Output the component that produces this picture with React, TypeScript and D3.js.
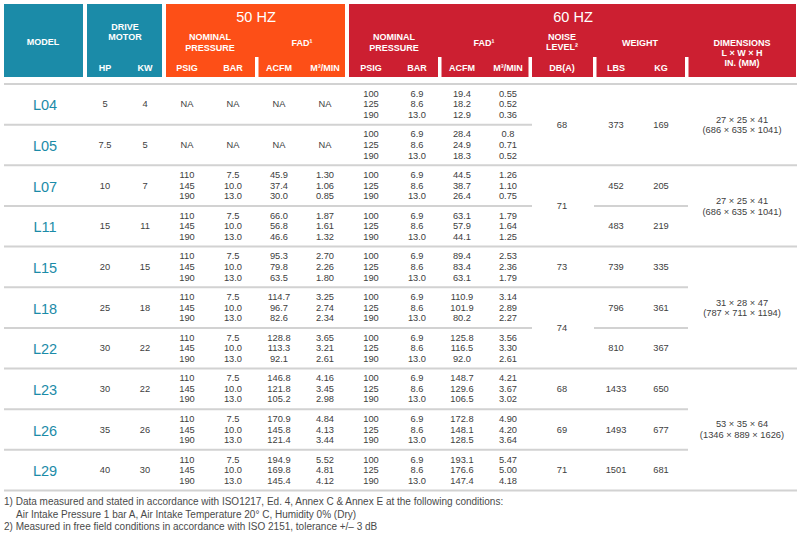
import React from "react";
import * as d3 from "d3";

const models = ["L04", "L05", "L07", "L11", "L15", "L18", "L22", "L23", "L26", "L29"];
const hp = ["5", "7.5", "10", "15", "20", "25", "30", "30", "35", "40"];
const kw = ["4", "5", "7", "11", "15", "18", "22", "22", "26", "30"];
const NA = ["NA"];
const p50 = ["110", "145", "190"];
const b50 = ["7.5", "10.0", "13.0"];
const psig50 = [NA, NA, p50, p50, p50, p50, p50, p50, p50, p50];
const bar50 = [NA, NA, b50, b50, b50, b50, b50, b50, b50, b50];
const acfm50 = [NA, NA, ["45.9", "37.4", "30.0"], ["66.0", "56.8", "46.6"], ["95.3", "79.8", "63.5"], ["114.7", "96.7", "82.6"], ["128.8", "113.3", "92.1"], ["146.8", "121.8", "105.2"], ["170.9", "145.8", "121.4"], ["194.9", "169.8", "145.4"]];
const m3min50 = [NA, NA, ["1.30", "1.06", "0.85"], ["1.87", "1.61", "1.32"], ["2.70", "2.26", "1.80"], ["3.25", "2.74", "2.34"], ["3.65", "3.21", "2.61"], ["4.16", "3.45", "2.98"], ["4.84", "4.13", "3.44"], ["5.52", "4.81", "4.12"]];
const p60 = ["100", "125", "190"];
const b60 = ["6.9", "8.6", "13.0"];
const psig60 = models.map(() => p60);
const bar60 = models.map(() => b60);
const acfm60 = [["19.4", "18.2", "12.9"], ["28.4", "24.9", "18.3"], ["44.5", "38.7", "26.4"], ["63.1", "57.9", "44.1"], ["89.4", "83.4", "63.1"], ["110.9", "101.9", "80.2"], ["125.8", "116.5", "92.0"], ["148.7", "129.6", "106.5"], ["172.8", "148.1", "128.5"], ["193.1", "176.6", "147.4"]];
const m3min60 = [["0.55", "0.52", "0.36"], ["0.8", "0.71", "0.52"], ["1.26", "1.10", "0.75"], ["1.79", "1.64", "1.25"], ["2.53", "2.36", "1.79"], ["3.14", "2.89", "2.27"], ["3.56", "3.30", "2.61"], ["4.21", "3.67", "3.02"], ["4.90", "4.20", "3.64"], ["5.47", "5.00", "4.18"]];

// merged cells: [value, firstRow, lastRow]
const noise: [string, number, number][] = [["68", 0, 1], ["71", 2, 3], ["73", 4, 4], ["74", 5, 6], ["68", 7, 7], ["69", 8, 8], ["71", 9, 9]];
const weightLbs: [string, number, number][] = [["373", 0, 1], ["452", 2, 2], ["483", 3, 3], ["739", 4, 4], ["796", 5, 5], ["810", 6, 6], ["1433", 7, 7], ["1493", 8, 8], ["1501", 9, 9]];
const weightKg: [string, number, number][] = [["169", 0, 1], ["205", 2, 2], ["219", 3, 3], ["335", 4, 4], ["361", 5, 5], ["367", 6, 6], ["650", 7, 7], ["677", 8, 8], ["681", 9, 9]];
const dims: [string, string, number, number][] = [
  ["27 × 25 × 41", "(686 × 635 × 1041)", 0, 1],
  ["27 × 25 × 41", "(686 × 635 × 1041)", 2, 3],
  ["31 × 28 × 47", "(787 × 711 × 1194)", 4, 6],
  ["53 × 35 × 64", "(1346 × 889 × 1626)", 7, 9],
];

const footnotes = [
  "1) Data measured and stated in accordance with ISO1217, Ed. 4, Annex C & Annex E at the following conditions:",
  "Air Intake Pressure 1 bar A, Air Intake Temperature 20° C, Humidity 0% (Dry)",
  "2) Measured in free field conditions in accordance with ISO 2151, tolerance +/– 3 dB",
];

const TEAL = "#1b8ba8";
const ORANGE = "#fd4f17";
const RED = "#cc1f31";
const LINE = "#d2d2d2";
const TXT = "#404040";
const FONT = "'Liberation Sans', Arial, sans-serif";
const DS = 9.3;

const colX: Record<string, number> = {
  model: 45, hp: 105, kw: 145,
  psig50: 187, bar50: 233, acfm50: 279, m350: 325,
  psig60: 371, bar60: 417, acfm60: 462, m360: 508,
  noise: 562, lbs: 616, kg: 661, dims: 742,
};

function Multi(props: { x: number; y: number; lines: string[]; gap: number; size: number; fill: string; weight?: number }) {
  const { x, y, lines, gap, size, fill, weight } = props;
  const off = (lines.length - 1) / 2;
  return (
    <text x={x} textAnchor="middle" dominantBaseline="central" fontSize={size} fill={fill} fontWeight={weight}>
      {lines.map((s, j) => (
        <tspan key={j} x={x} y={y + (j - off) * gap}>{s}</tspan>
      ))}
    </text>
  );
}

export default function App() {
  const y = d3.scaleLinear().domain([0, 10]).range([84, 490.5]);
  const rowC = (a: number, b: number) => (y(a) + y(b + 1)) / 2;

  const tri = (key: string, vals: string[][]) =>
    vals.map((v, i) => (
      <Multi key={key + i} x={colX[key]} y={rowC(i, i)} lines={v} gap={10.6} size={DS} fill={TXT} />
    ));

  const merged = (key: string, g: [string, number, number][]) =>
    g.map(([v, a, b], i) => (
      <text key={key + i} x={colX[key]} y={rowC(a, b)} textAnchor="middle" dominantBaseline="central" fontSize={DS} fill={TXT}>{v}</text>
    ));

  const groupChange = (g: any[], boundary: number) => g.some((r) => r[r.length - 2] === boundary);

  const segs = [
    { x0: 4, x1: 532, g: null as any },
    { x0: 532, x1: 594, g: noise },
    { x0: 594, x1: 688, g: weightLbs },
    { x0: 688, x1: 797, g: dims },
  ];

  const lines: JSX.Element[] = [];
  for (let k = 0; k <= 10; k++) {
    segs.forEach((s, si) => {
      const show = k === 0 || k === 10 || !s.g || groupChange(s.g, k);
      if (show) lines.push(<line key={"l" + k + "_" + si} x1={s.x0} x2={s.x1} y1={y(k)} y2={y(k)} stroke={LINE} strokeWidth={2} />);
    });
  }

  const hdr = { fill: "#fff", fontWeight: 700, fontSize: 9, textAnchor: "middle" as const, dominantBaseline: "central" as const };
  const H = (x: number, yy: number, l: string[], gap = 10.5) => (
    <Multi x={x} y={yy} lines={l} gap={gap} size={9} fill="#fff" weight={700} />
  );

  return (
    <svg width={800} height={537} style={{ position: "absolute", left: 0, top: 0, background: "#fff" }} fontFamily={FONT}>
      <rect x={0} y={0} width={800} height={537} fill="#fff" />
      <rect x={4} y={4} width={79} height={73} fill={TEAL} />
      <rect x={87} y={4} width={75} height={73} fill={TEAL} />
      <rect x={166} y={4} width={179} height={73} fill={ORANGE} />
      <rect x={349} y={4} width={447} height={73} fill={RED} />
      {[255, 438, 528.5, 593, 685].map((x, i) => (
        <rect key={"w" + i} x={x} y={57} width={3.5} height={21} fill="#fff" />
      ))}
      <text x={43} y={42} {...hdr}>MODEL</text>
      {H(125, 32.2, ["DRIVE", "MOTOR"])}
      <text x={colX.hp} y={68} {...hdr}>HP</text>
      <text x={colX.kw} y={68} {...hdr}>KW</text>
      <text x={256} y={17} {...hdr} fontSize={14.5} fontWeight={400}>50 HZ</text>
      {H(210, 42.7, ["NOMINAL", "PRESSURE"])}
      <text x={302} y={43} {...hdr}>FAD¹</text>
      <text x={colX.psig50} y={68} {...hdr}>PSIG</text>
      <text x={colX.bar50} y={68} {...hdr}>BAR</text>
      <text x={colX.acfm50} y={68} {...hdr}>ACFM</text>
      <text x={colX.m350} y={68} {...hdr}>M³/MIN</text>
      <text x={573} y={17} {...hdr} fontSize={14.5} fontWeight={400}>60 HZ</text>
      {H(394, 42.7, ["NOMINAL", "PRESSURE"])}
      <text x={484} y={43} {...hdr}>FAD¹</text>
      {H(562, 42.2, ["NOISE", "LEVEL²"])}
      <text x={640} y={43} {...hdr}>WEIGHT</text>
      {H(742, 53.2, ["DIMENSIONS", "L × W × H", "IN. (MM)"], 10.2)}
      <text x={colX.psig60} y={68} {...hdr}>PSIG</text>
      <text x={colX.bar60} y={68} {...hdr}>BAR</text>
      <text x={colX.acfm60} y={68} {...hdr}>ACFM</text>
      <text x={colX.m360} y={68} {...hdr}>M³/MIN</text>
      <text x={colX.noise} y={68} {...hdr}>DB(A)</text>
      <text x={colX.lbs} y={68} {...hdr}>LBS</text>
      <text x={colX.kg} y={68} {...hdr}>KG</text>

      {lines}

      {models.map((m, i) => (
        <text key={"m" + i} x={colX.model} y={rowC(i, i) + 1} textAnchor="middle" dominantBaseline="central" fontSize={14.5} fill={TEAL}>{m}</text>
      ))}
      {hp.map((v, i) => (
        <text key={"hp" + i} x={colX.hp} y={rowC(i, i)} textAnchor="middle" dominantBaseline="central" fontSize={DS} fill={TXT}>{v}</text>
      ))}
      {kw.map((v, i) => (
        <text key={"kw" + i} x={colX.kw} y={rowC(i, i)} textAnchor="middle" dominantBaseline="central" fontSize={DS} fill={TXT}>{v}</text>
      ))}
      {tri("psig50", psig50)}
      {tri("bar50", bar50)}
      {tri("acfm50", acfm50)}
      {tri("m350", m3min50)}
      {tri("psig60", psig60)}
      {tri("bar60", bar60)}
      {tri("acfm60", acfm60)}
      {tri("m360", m3min60)}
      {merged("noise", noise)}
      {merged("lbs", weightLbs)}
      {merged("kg", weightKg)}
      {dims.map(([a, b, r0, r1], i) => (
        <Multi key={"d" + i} x={colX.dims} y={rowC(r0, r1) + 0.25} lines={[a, b]} gap={10.6} size={DS} fill={TXT} />
      ))}

      <text fontSize={10} fill="#4a4a4a" dominantBaseline="central">
        <tspan x={4} y={501}>{footnotes[0]}</tspan>
        <tspan x={16} y={513.5}>{footnotes[1]}</tspan>
        <tspan x={4} y={526}>{footnotes[2]}</tspan>
      </text>
    </svg>
  );
}
